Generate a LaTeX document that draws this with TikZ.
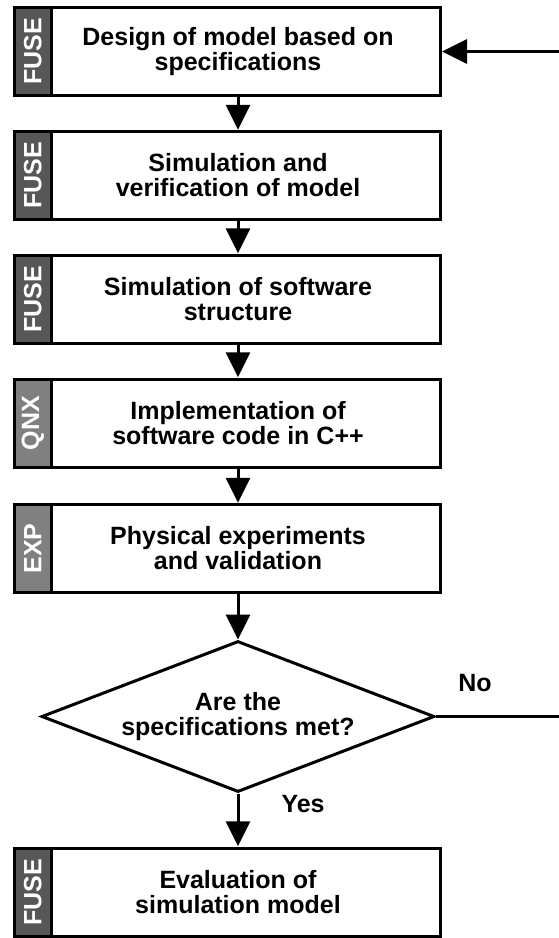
\documentclass[tikz,border=0pt]{standalone}
\usepackage{fontspec}
\setmainfont{Liberation Sans}
\usetikzlibrary{shapes.geometric,arrows.meta,positioning}

\definecolor{fusegray}{gray}{0.34}
\definecolor{qnxgray}{gray}{0.5}

\tikzset{
  stepframe/.style={draw,line width=3pt,minimum width=426.5pt,minimum height=88pt,inner sep=0pt},
  sidetab/.style={draw,line width=3pt,fill=#1,minimum width=37.5pt,minimum height=88pt,
    inner sep=0pt,text=white,font=\fontsize{25}{25}\selectfont\bfseries},
  steptext/.style={minimum height=91pt,inner sep=0pt,align=center,
    font=\fontsize{25}{25}\selectfont\bfseries},
  decision/.style={draw,diamond,line width=3pt,aspect=2.6,minimum width=393pt,
    minimum height=151pt,inner sep=0pt,align=center,font=\fontsize{25}{25}\selectfont\bfseries},
  flow/.style={line width=3pt,-{Triangle[length=25pt,width=24pt]}},
  lbl/.style={inner sep=0pt,font=\fontsize{25}{25}\selectfont\bfseries}
}

\begin{document}
\begin{tikzpicture}[x=1pt,y=-1pt]
  \useasboundingbox (0,0) rectangle (559,938);
  % design
  \node[stepframe] (f1) at (227.25,51.5) {};
  \node[sidetab=fusegray,anchor=west] (t1) at (f1.west) {\rotatebox{90}{FUSE}};
  \node[steptext] (b1) at (238,51.5) {Design of model based on\\specifications};
  % simulation / verification
  \node[stepframe] (f2) at (227.25,175.5) {};
  \node[sidetab=fusegray,anchor=west] (t2) at (f2.west) {\rotatebox{90}{FUSE}};
  \node[steptext] (b2) at (238,175.5) {Simulation and\\verification of model};
  % software structure
  \node[stepframe] (f3) at (227.25,299) {};
  \node[sidetab=fusegray,anchor=west] (t3) at (f3.west) {\rotatebox{90}{FUSE}};
  \node[steptext] (b3) at (238,299) {Simulation of software\\structure};
  % code
  \node[stepframe] (f4) at (227.25,423) {};
  \node[sidetab=qnxgray,anchor=west] (t4) at (f4.west) {\rotatebox{90}{QNX}};
  \node[steptext] (b4) at (238,423) {Implementation of\\software code in C++};
  % experiments
  \node[stepframe] (f5) at (227.25,548.5) {};
  \node[sidetab=qnxgray,anchor=west] (t5) at (f5.west) {\rotatebox{90}{EXP}};
  \node[steptext] (b5) at (238,548.5) {Physical experiments\\and validation};
  % check
  \node[decision] (dec) at (238,716.5) {Are the\\specifications met?};
  % evaluation
  \node[stepframe] (f6) at (227.25,892) {};
  \node[sidetab=fusegray,anchor=west] (t6) at (f6.west) {\rotatebox{90}{FUSE}};
  \node[steptext] (b6) at (238,892) {Evaluation of\\simulation model};

  \coordinate (fb) at (562,716.5);

  \draw[flow] (b1) -- (b2);
  \draw[flow] (b2) -- (b3);
  \draw[flow] (b3) -- (b4);
  \draw[flow] (b4) -- (b5);
  \draw[flow] (b5) -- (dec);
  \draw[flow] (dec) -- node[lbl,right=42pt,pos=0.2] (yes) {Yes} (b6);
  % back to the start
  \draw[flow] (dec.east) -- node[lbl,above=23.5pt,pos=0.31] (no) {No} (fb) |- (f1.east);
\end{tikzpicture}
\end{document}
